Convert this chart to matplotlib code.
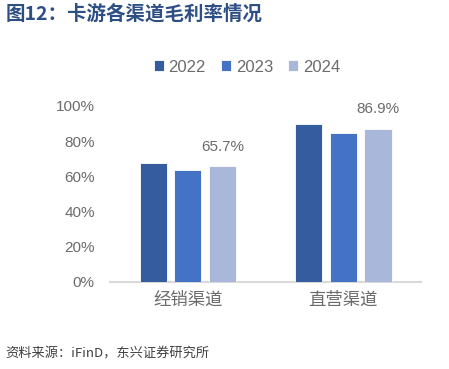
import numpy as np
import matplotlib
matplotlib.use('Agg')
import matplotlib.pyplot as plt

plt.rcParams['font.family'] = ['Liberation Sans', 'Noto Sans CJK SC', 'DejaVu Sans']

categories = ['经销渠道', '直营渠道']
years = ['2022', '2023', '2024']
margin_2022 = [67.3, 89.7]
margin_2023 = [63.5, 84.5]
margin_2024 = [65.7, 86.9]
series = [margin_2022, margin_2023, margin_2024]
colors = ['#355C9F', '#4472C4', '#A9B7DB']
yticks = [0, 20, 40, 60, 80, 100]
grey = '#6B6B6B'

fig = plt.figure(figsize=(4.49, 3.69), dpi=100)
ax = fig.add_axes([0.245, 0.236, 0.693, 0.477])

x = np.arange(len(categories))
w = 0.175
step = 0.222
for i, (vals, c) in enumerate(zip(series, colors)):
    ax.bar(x + (i - 1) * step, vals, width=w, color=c, edgecolor='white',
           linewidth=0.6, label=years[i], zorder=3)

# only 2024 gets a value label
for xi, v in zip(x, margin_2024):
    ax.annotate(f'{v:.1f}%', (xi + step, v), xytext=(0, 9), textcoords='offset points',
                ha='center', va='bottom', fontsize=11, color=grey)

ax.set_xlim(-0.5, 1.5)
ax.set_ylim(0, 100)
ax.set_yticks(yticks)
ax.set_yticklabels([f'{t}%' for t in yticks], fontsize=11, color=grey)
ax.set_xticks(x)
ax.set_xticklabels(categories, fontsize=12.5, color=grey)
ax.tick_params(axis='x', length=0, pad=7)
ax.tick_params(axis='y', length=0, pad=11)
for s in ['top', 'right', 'left']:
    ax.spines[s].set_visible(False)
ax.spines['bottom'].set_color('#D9D9D9')
ax.spines['bottom'].set_linewidth(1.5)

fig.legend(loc='center', bbox_to_anchor=(0.55, 0.818), ncol=3, frameon=False,
           handlelength=0.6, handleheight=0.6, handletextpad=0.3, columnspacing=0.9,
           prop={'size': 12}, labelcolor=grey)

fig.text(0.012, 0.962, '图12：卡游各渠道毛利率情况', fontsize=14, fontweight='bold',
         color='#2D4F85', ha='left', va='center', family=['Noto Sans CJK SC'])
fig.text(0.012, 0.04, '资料来源：iFinD，东兴证券研究所', fontsize=9.5, style='italic',
         color='#404040', ha='left', va='center', family=['Noto Sans CJK SC', 'Liberation Sans'])

fig.savefig('out.png', dpi=100)
